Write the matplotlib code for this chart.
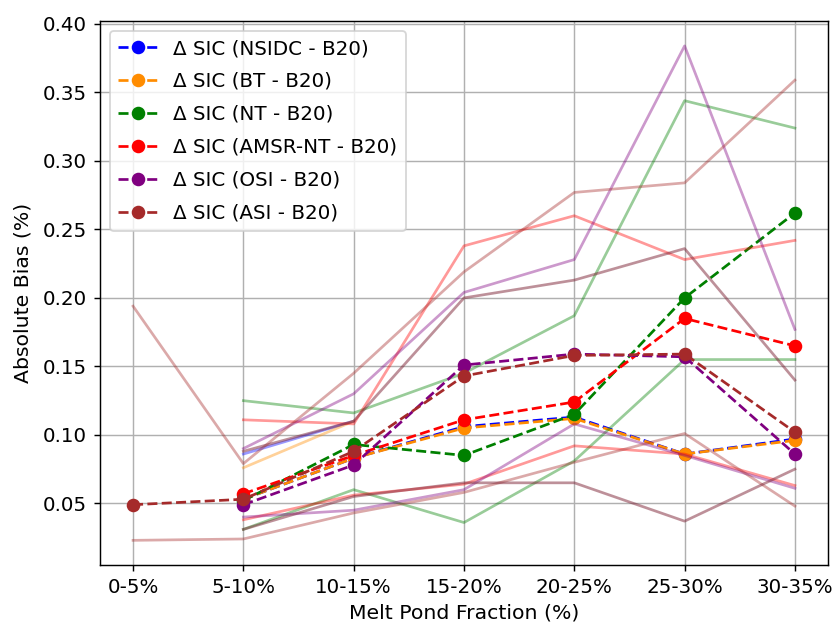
import numpy as np
import matplotlib
matplotlib.use('Agg')
import matplotlib.pyplot as plt

nan = np.nan
bins = ['0-5%', '5-10%', '10-15%', '15-20%', '20-25%', '25-30%', '30-35%']

# mean absolute bias per product
nsidc = [nan, 0.053, 0.083, 0.106, 0.113, 0.086, 0.097]
bt    = [nan, 0.053, 0.083, 0.105, 0.112, 0.086, 0.096]
nt    = [nan, 0.052, 0.093, 0.085, 0.115, 0.200, 0.262]
amsr  = [nan, 0.057, 0.085, 0.111, 0.124, 0.185, 0.165]
osi   = [nan, 0.049, 0.078, 0.151, 0.159, 0.157, 0.086]
asi   = [0.049, 0.053, 0.088, 0.143, 0.158, 0.159, 0.102]

# upper / lower spread
nsidc_hi = [nan, 0.086, 0.110, nan, nan, nan, nan]
nsidc_lo = [nan, nan, nan, nan, nan, nan, nan]
bt_hi    = [nan, 0.076, 0.110, nan, nan, nan, nan]
bt_lo    = [nan, nan, nan, nan, nan, nan, nan]
nt_hi    = [nan, 0.125, 0.116, 0.145, 0.187, 0.344, 0.324]
nt_lo    = [nan, 0.031, 0.060, 0.036, 0.081, 0.155, 0.155]
amsr_hi  = [nan, 0.111, 0.108, 0.238, 0.260, 0.228, 0.242]
amsr_lo  = [nan, 0.038, 0.056, 0.064, 0.092, 0.086, 0.063]
osi_hi   = [nan, 0.090, 0.130, 0.204, 0.228, 0.384, 0.177]
osi_lo   = [nan, 0.040, 0.045, 0.060, 0.108, 0.085, 0.061]
asi_hi   = [0.194, 0.079, 0.145, 0.219, 0.277, 0.284, 0.359]
asi_lo   = [0.023, 0.024, 0.043, 0.058, 0.080, 0.101, 0.048]
asi_hi2  = [nan, 0.088, 0.110, 0.200, 0.213, 0.236, 0.140]
asi_lo2  = [nan, 0.031, 0.055, 0.065, 0.065, 0.037, 0.075]

series = [
    ('NSIDC', nsidc, nsidc_hi, nsidc_lo, 'blue'),
    ('BT', bt, bt_hi, bt_lo, 'darkorange'),
    ('NT', nt, nt_hi, nt_lo, 'green'),
    ('AMSR-NT', amsr, amsr_hi, amsr_lo, 'red'),
    ('OSI', osi, osi_hi, osi_lo, 'purple'),
    ('ASI', asi, asi_hi, asi_lo, 'brown'),
]

fig = plt.figure(figsize=(833/130, 623/130), dpi=130)
ax = fig.add_axes([0.120, 0.093, 0.874, 0.873])
x = np.arange(len(bins))

for name, mean, hi, lo, col in series:
    ax.plot(x, mean, '--o', color=col, markersize=6.5, label='Δ SIC (%s - B20)' % name)
    ax.plot(x, hi, '-', color=col, alpha=0.4)
    ax.plot(x, lo, '-', color=col, alpha=0.4)

ax.plot(x, asi_hi2, '-', color='#7d2235', alpha=0.5)
ax.plot(x, asi_lo2, '-', color='#7d2235', alpha=0.5)

ax.set_xticks(x)
ax.set_xticklabels(bins)
ax.tick_params(labelsize=11)
ax.set_xlabel('Melt Pond Fraction (%)', fontsize=11.3)
ax.set_ylabel('Absolute Bias (%)', fontsize=11.3, labelpad=6)
ax.grid(True)
ax.legend(loc='upper left', fontsize=11, labelspacing=0.7)

fig.savefig('out.png', dpi=130)
